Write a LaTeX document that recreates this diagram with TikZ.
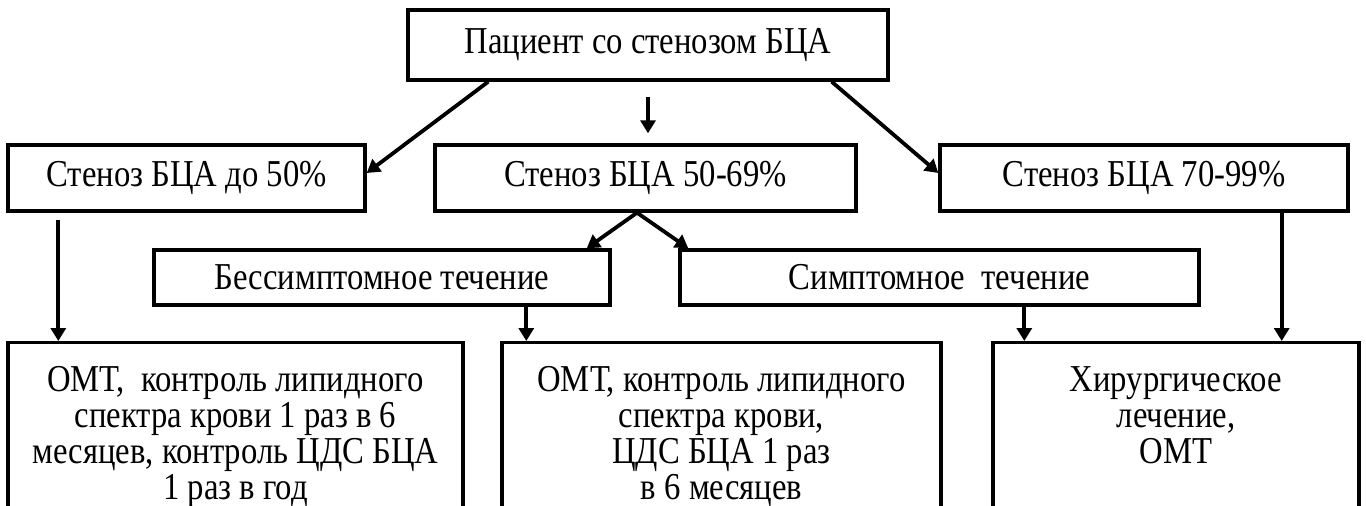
\documentclass[tikz,border=0pt]{standalone}
\usepackage{fontspec}
\setmainfont{Liberation Serif}[FakeStretch=0.86]
\usetikzlibrary{arrows.meta}
\tikzset{>={Triangle[length=13pt,width=15pt]}}
\tikzset{
  box/.style={draw, line width=3.4pt, inner sep=0pt, font=\fontsize{38}{36}\selectfont},
  res/.style={box, anchor=north, align=flush center, inner ysep=22pt, text height=27pt, text depth=200pt},
  arr/.style={->, line width=3.8pt}
}

\begin{document}
\begin{tikzpicture}[x=1pt, y=-1pt]

  \useasboundingbox (0,0) rectangle (1366,506);
  \clip (0,0) rectangle (1366,506);

  %% first level
  \node[box, minimum width=480pt, minimum height=70pt] (patient) at (648,45) {Пациент со стенозом БЦА};

  %% degree of stenosis
  \node[box, minimum width=357pt, minimum height=66pt] (low) at (186.5,178) {Стеноз БЦА до 50\%};
  \node[box, minimum width=421pt, minimum height=66pt] (mid) at (645.5,178) {Стеноз БЦА 50-69\%};
  \node[box, minimum width=408pt, minimum height=66pt] (high) at (1144,178) {Стеноз БЦА 70-99\%};

  %% course
  \node[box, minimum width=456pt, minimum height=55pt] (asym) at (382,277.5) {Бессимптомное течение};
  \node[box, minimum width=519pt, minimum height=55pt] (sym) at (939.5,277.5) {Симптомное\ \ течение};

  %% treatment
  \node[res, text width=455pt] (res1) at (235.5,341) {ОМТ,\ \ контроль липидного\\спектра крови 1 раз в 6\\месяцев, контроль ЦДС БЦА\\1 раз в год};
  \node[res, text width=439pt] (res2) at (721.5,341) {ОМТ, контроль липидного\\спектра крови,\\ЦДС БЦА 1 раз\\в 6 месяцев};
  \node[res, text width=366pt] (res3) at (1176,341) {Хирургическое\\лечение,\\ОМТ};

  \draw[arr] ([xshift=82pt]patient.south west) -- ([yshift=5pt]low.east);
  \draw[arr, shorten <=15pt, shorten >=10pt] (patient.south) -- (patient.south |- mid.north);
  \draw[arr] ([xshift=-58pt]patient.south east) -- ([yshift=5pt]high.west);

  \draw[arr] ([xshift=-8.5pt]mid.south) -- ([xshift=-25pt]asym.north east);
  \draw[arr] ([xshift=-8.5pt]mid.south) -- ([xshift=10pt]sym.north west);

  \draw[arr, shorten <=7pt] ([xshift=52pt]res1.north west |- low.south) -- ([xshift=52pt]res1.north west);
  \draw[arr] ([xshift=26pt]res2.north west |- asym.south) -- ([xshift=26pt]res2.north west);
  \draw[arr] ([xshift=33pt]res3.north west |- sym.south) -- ([xshift=33pt]res3.north west);
  \draw[arr] ([xshift=-79pt]res3.north east |- high.south) -- ([xshift=-79pt]res3.north east);

\end{tikzpicture}
\end{document}
